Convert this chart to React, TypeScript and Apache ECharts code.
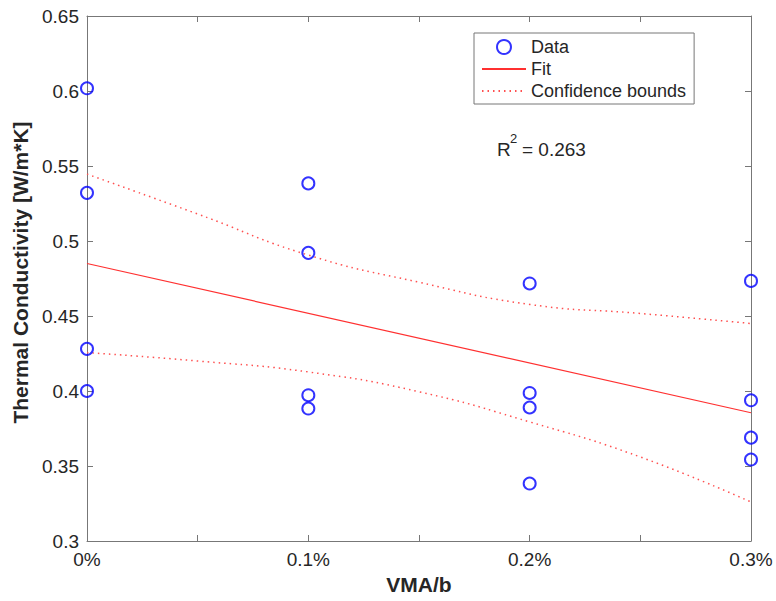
import React, { useEffect, useRef } from "react";
import * as echarts from "echarts";

// Data
const dataX: number[] = [0, 0, 0, 0, 0.1, 0.1, 0.1, 0.1, 0.2, 0.2, 0.2, 0.2, 0.3, 0.3, 0.3, 0.3];
const dataY: number[] = [
  0.6018, 0.5321, 0.4281, 0.4, 0.5384, 0.4921, 0.3972, 0.3883, 0.4717, 0.3987, 0.389, 0.3383,
  0.4734, 0.3938, 0.3689, 0.3543,
];
const fitX: number[] = [0, 0.3];
const fitY: number[] = [0.485, 0.3855];
const boundX: number[] = [0, 0.05, 0.1, 0.15, 0.2, 0.25, 0.3];
const upperY: number[] = [0.5446, 0.518, 0.4906, 0.4725, 0.4577, 0.4517, 0.445];
const lowerY: number[] = [0.4256, 0.42, 0.4127, 0.3995, 0.3794, 0.356, 0.326];
const xTickLabels: string[] = ["0%", "", "0.1%", "", "0.2%", "", "0.3%"];
const r2Text = "= 0.263";

const FONT = "'Liberation Sans', Arial, Helvetica, sans-serif";
const TEXT = "#262626";
const AXIS = "#777777";

const zip = (xs: number[], ys: number[]) => xs.map((x, i) => [x, ys[i]]);

export default function App() {
  const ref = useRef<HTMLDivElement>(null);
  useEffect(() => {
    if (!ref.current) return;
    const chart = echarts.init(ref.current, undefined, { renderer: "svg" });
    const xBase = {
      type: "value" as const,
      min: 0,
      max: 0.3,
      interval: 0.05,
      splitLine: { show: false },
      axisLine: { show: true, onZero: false, lineStyle: { color: AXIS, width: 1 } },
      axisTick: { show: true, inside: true, length: 6, lineStyle: { color: AXIS } },
    };
    const yBase = {
      type: "value" as const,
      min: 0.3,
      max: 0.65,
      interval: 0.05,
      splitLine: { show: false },
      axisLine: { show: true, onZero: false, lineStyle: { color: AXIS, width: 1 } },
      axisTick: { show: true, inside: true, length: 6, lineStyle: { color: AXIS } },
    };
    const dotDash = [1.5, 4];
    const hiddenSymbol = { opacity: 0, color: "rgba(0,0,0,0)", borderWidth: 0 };
    chart.setOption({
      animation: false,
      backgroundColor: "#ffffff",
      grid: { left: 87, right: 25, top: 16, bottom: 60, containLabel: false },
      legend: {
        orient: "vertical",
        left: 474,
        top: 33,
        padding: [5, 8, 4, 7],
        itemGap: 4,
        itemWidth: 44,
        itemHeight: 14,
        borderColor: AXIS,
        borderWidth: 1,
        backgroundColor: "#ffffff",
        textStyle: { fontSize: 18, lineHeight: 18, color: TEXT, fontFamily: FONT },
        data: [
          { name: "Data" },
          { name: "Fit", itemStyle: hiddenSymbol },
          { name: "Confidence bounds", itemStyle: hiddenSymbol },
        ],
      },
      xAxis: [
        {
          ...xBase,
          position: "bottom",
          name: "VMA/b",
          nameLocation: "middle",
          nameGap: 33,
          nameTextStyle: { fontSize: 21, fontWeight: "bold", color: TEXT, fontFamily: FONT },
          axisLabel: {
            margin: 9,
            fontSize: 19,
            color: TEXT,
            fontFamily: FONT,
            formatter: (v: number) => xTickLabels[Math.round(v / 0.05)] ?? "",
          },
        },
        { ...xBase, position: "top", axisLabel: { show: false } },
      ],
      yAxis: [
        {
          ...yBase,
          position: "left",
          name: "Thermal Conductivity [W/m*K]",
          nameLocation: "middle",
          nameGap: 52,
          nameTextStyle: {
            fontSize: 21,
            fontWeight: "bold",
            color: TEXT,
            fontFamily: FONT,
            padding: [0, 0, 0, 12],
          },
          axisLabel: {
            margin: 8,
            fontSize: 19,
            color: TEXT,
            fontFamily: FONT,
            formatter: (v: number) => String(Math.round(v * 100) / 100),
          },
        },
        { ...yBase, position: "right", axisLabel: { show: false } },
      ],
      series: [
        {
          name: "Data",
          type: "scatter",
          data: zip(dataX, dataY),
          symbol: "circle",
          symbolSize: 12,
          itemStyle: { color: "rgba(255,255,255,0)", borderColor: "#0000ff", borderWidth: 2 },
          z: 5,
        },
        {
          name: "Fit",
          type: "line",
          data: zip(fitX, fitY),
          symbol: "none",
          lineStyle: { color: "#ff3030", width: 1.2 },
          itemStyle: { color: "#ff3030" },
          z: 3,
        },
        {
          name: "Confidence bounds",
          type: "line",
          data: zip(boundX, upperY),
          symbol: "none",
          smooth: true,
          lineStyle: { color: "#ff5050", width: 1.5, type: dotDash },
          itemStyle: { color: "#ff5050" },
          z: 3,
        },
        {
          name: "Confidence bounds",
          type: "line",
          data: zip(boundX, lowerY),
          symbol: "none",
          smooth: true,
          lineStyle: { color: "#ff5050", width: 1.5, type: dotDash },
          itemStyle: { color: "#ff5050" },
          z: 3,
        },
      ],
      graphic: [
        {
          type: "text",
          left: 497,
          top: 140,
          style: { text: "R", fontSize: 19, fill: TEXT, fontFamily: FONT },
        },
        {
          type: "text",
          left: 510,
          top: 132,
          style: { text: "2", fontSize: 13, fill: TEXT, fontFamily: FONT },
        },
        {
          type: "text",
          left: 522,
          top: 140,
          style: { text: r2Text, fontSize: 19, fill: TEXT, fontFamily: FONT },
        },
      ],
    });
    return () => chart.dispose();
  }, []);
  return (
    <div
      ref={ref}
      style={{ position: "fixed", left: 0, top: 0, width: 776, height: 601, background: "#fff" }}
    />
  );
}
